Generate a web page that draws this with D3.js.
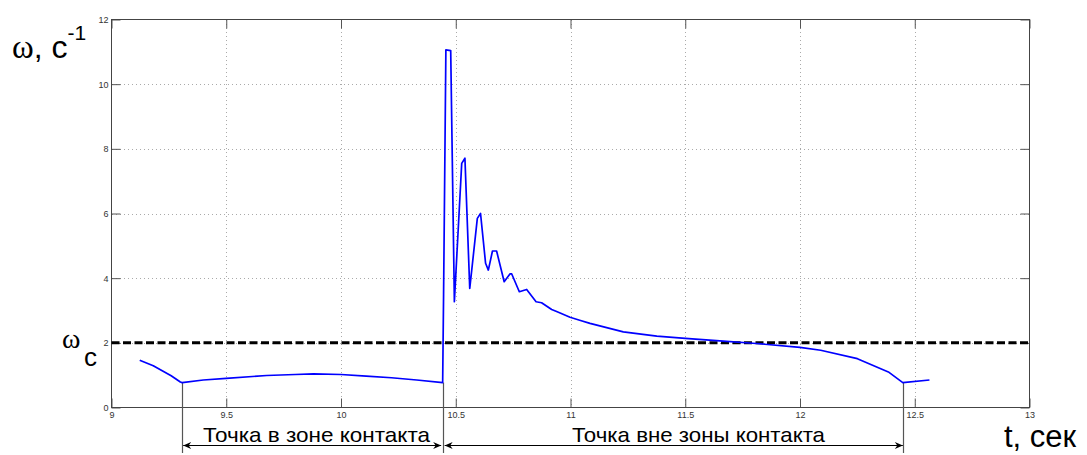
<!DOCTYPE html>
<html><head><meta charset="utf-8">
<script src="https://cdn.jsdelivr.net/npm/d3@7"></script>
<style>
html,body{margin:0;padding:0;background:#fff;}
svg{display:block;}
</style></head>
<body>
<svg id="chart" width="1087" height="455"></svg>
<script>
// ---- data ----
const timeValues = [9.123, 9.182, 9.26, 9.30, 9.308, 9.40, 9.5, 9.676, 9.8, 9.88, 10.0, 10.11, 10.22, 10.33, 10.443,
  10.447, 10.457, 10.478, 10.494, 10.526, 10.54, 10.561, 10.594, 10.608, 10.63, 10.642, 10.66, 10.678, 10.711,
  10.736, 10.744, 10.777, 10.809, 10.85, 10.874, 10.918, 10.942, 10.998, 11.04, 11.085, 11.23, 11.376, 11.5,
  11.666, 11.81, 12.0, 12.09, 12.25, 12.385, 12.448, 12.564];
const omegaValues = [1.46, 1.29, 0.98, 0.79, 0.77, 0.85, 0.90, 0.99, 1.02, 1.04, 1.02, 0.97, 0.92, 0.85, 0.77,
  3.5, 11.06, 11.04, 3.27, 7.55, 7.71, 3.68, 5.85, 6.0, 4.46, 4.25, 4.84, 4.84, 3.89,
  4.13, 4.13, 3.58, 3.65, 3.27, 3.24, 3.03, 2.96, 2.79, 2.70, 2.60, 2.34, 2.21, 2.14,
  2.05, 1.98, 1.86, 1.77, 1.51, 1.10, 0.77, 0.85];
const criticalOmega = 2;
const zoneBounds = [9.308, 10.443, 12.448];
const zoneLabels = ["Точка в зоне контакта", "Точка вне зоны контакта"];
const xTicks = [9, 9.5, 10, 10.5, 11, 11.5, 12, 12.5, 13];
const xTickLabels = ["9", "9.5", "10", "10.5", "11", "11.5", "12", "12.5", "13"];
const yTicks = [0, 2, 4, 6, 8, 10, 12];
const yTickLabels = ["0", "2", "4", "6", "8", "10", "12"];
const xDomain = [9, 13];
const yDomain = [0, 12];

// ---- layout ----
const svg = d3.select("#chart");
const L = 111.5, R = 1029.5, T = 19.5, B = 407.5;
const x = d3.scaleLinear().domain(xDomain).range([L, R]);
const y = d3.scaleLinear().domain(yDomain).range([B, T]);
const sans = "'Liberation Sans', Arial, sans-serif";
const serif = "'Liberation Serif', 'Times New Roman', serif";

// grid
const grid = svg.append("g").attr("stroke", "#aaa").attr("stroke-width", 1).attr("stroke-dasharray", "1,3")
  .attr("shape-rendering", "crispEdges");
grid.selectAll("line.vx").data(xTicks.slice(1, -1)).join("line")
  .attr("x1", d => Math.round(x(d)) + 0.5).attr("x2", d => Math.round(x(d)) + 0.5)
  .attr("y1", T).attr("y2", B);
grid.selectAll("line.hy").data(yTicks.slice(1, -1)).join("line")
  .attr("y1", d => Math.round(y(d)) + 0.5).attr("y2", d => Math.round(y(d)) + 0.5)
  .attr("x1", L).attr("x2", R);

// axes (ticks inward, mirrored)
const fmtX = (d, i) => xTickLabels[i];
const fmtY = (d, i) => yTickLabels[i];
function styleAxis(g) {
  g.select(".domain").remove();
  g.selectAll(".tick line").attr("stroke", "#555");
  g.selectAll(".tick text").attr("fill", "#333").style("font-family", sans).style("font-size", "9px");
}
svg.append("g").attr("transform", `translate(0,${B})`)
  .call(d3.axisBottom(x).tickValues(xTicks).tickFormat(fmtX).tickSize(-9).tickPadding(4.5)).call(styleAxis);
svg.append("g").attr("transform", `translate(0,${T})`)
  .call(d3.axisTop(x).tickValues(xTicks).tickFormat("").tickSize(-9)).call(styleAxis);
svg.append("g").attr("transform", `translate(${L},0)`)
  .call(d3.axisLeft(y).tickValues(yTicks).tickFormat(fmtY).tickSize(-9).tickPadding(3)).call(styleAxis);
svg.append("g").attr("transform", `translate(${R},0)`)
  .call(d3.axisRight(y).tickValues(yTicks).tickFormat("").tickSize(-9)).call(styleAxis);

// box
svg.append("rect").attr("x", L).attr("y", T).attr("width", R - L).attr("height", B - T)
  .attr("fill", "none").attr("stroke", "#444").attr("stroke-width", 1);

// critical dashed line
svg.append("line").attr("x1", L).attr("x2", R)
  .attr("y1", y(criticalOmega)).attr("y2", y(criticalOmega))
  .attr("stroke", "#000").attr("stroke-width", 3).attr("stroke-dasharray", "8,3.5");

// annotation verticals
const data = timeValues.map((t, i) => ({t, w: omegaValues[i]}));
function omegaAt(t) {
  const m = data.find(d => Math.abs(d.t - t) < 1e-9);
  return m ? m.w : 0;
}
svg.append("g").selectAll("line").data(zoneBounds).join("line")
  .attr("x1", d => Math.round(x(d)) + 0.5).attr("x2", d => Math.round(x(d)) + 0.5)
  .attr("y1", d => y(omegaAt(d))).attr("y2", 453)
  .attr("stroke", "#555").attr("stroke-width", 1.2);

// curve
svg.append("path").datum(data)
  .attr("d", d3.line().x(d => x(d.t)).y(d => y(d.w)))
  .attr("fill", "none").attr("stroke", "#0000ff").attr("stroke-width", 1.7).attr("stroke-linejoin", "round");

// arrows
const defs = svg.append("defs");
defs.append("marker").attr("id", "ah").attr("viewBox", "-9 -4 10 8")
  .attr("refX", 0).attr("refY", 0).attr("markerWidth", 10).attr("markerHeight", 8)
  .attr("markerUnits", "userSpaceOnUse").attr("orient", "auto-start-reverse")
  .append("path").attr("d", "M0,0 L-8,-3.5 L-5.5,0 L-8,3.5 Z").attr("fill", "#000");
const arrowY = 445.5;
const segs = [[zoneBounds[0], zoneBounds[1]], [zoneBounds[1], zoneBounds[2]]];
svg.append("g").selectAll("line").data(segs).join("line")
  .attr("x1", (d, i) => x(d[0]) + (i === 0 ? 1 : 2)).attr("x2", (d, i) => x(d[1]) - (i === 0 ? 1.5 : 0))
  .attr("y1", arrowY).attr("y2", arrowY)
  .attr("stroke", "#000").attr("stroke-width", 1)
  .attr("marker-start", "url(#ah)").attr("marker-end", "url(#ah)");

const labelPos = [{x: 316.5, w: 227}, {x: 698.5, w: 253}];
svg.append("g").selectAll("text").data(zoneLabels).join("text")
  .attr("x", (d, i) => labelPos[i].x).attr("y", 441.5)
  .attr("text-anchor", "middle")
  .attr("textLength", (d, i) => labelPos[i].w).attr("lengthAdjust", "spacingAndGlyphs")
  .style("font-family", sans).style("font-size", "21px").attr("fill", "#000")
  .text(d => d);

// axis titles
const yl = svg.append("text").attr("x", 12).attr("y", 58).attr("fill", "#000");
yl.append("tspan").style("font-family", serif).style("font-size", "33px").text("ω");
yl.append("tspan").style("font-family", sans).style("font-size", "32px").text(", c");
yl.append("tspan").style("font-family", sans).style("font-size", "21px").attr("dy", -18).text("-1");

const wc = svg.append("text").attr("x", 62).attr("y", 348).attr("fill", "#000");
wc.append("tspan").style("font-family", serif).style("font-size", "28px").text("ω");
wc.append("tspan").attr("x", 84).attr("y", 366).style("font-family", sans).style("font-size", "26px").text("c");

svg.append("text").attr("x", 1004).attr("y", 447).attr("fill", "#000")
  .style("font-family", sans).style("font-size", "31px").text("t, сек");
</script>
</body></html>
